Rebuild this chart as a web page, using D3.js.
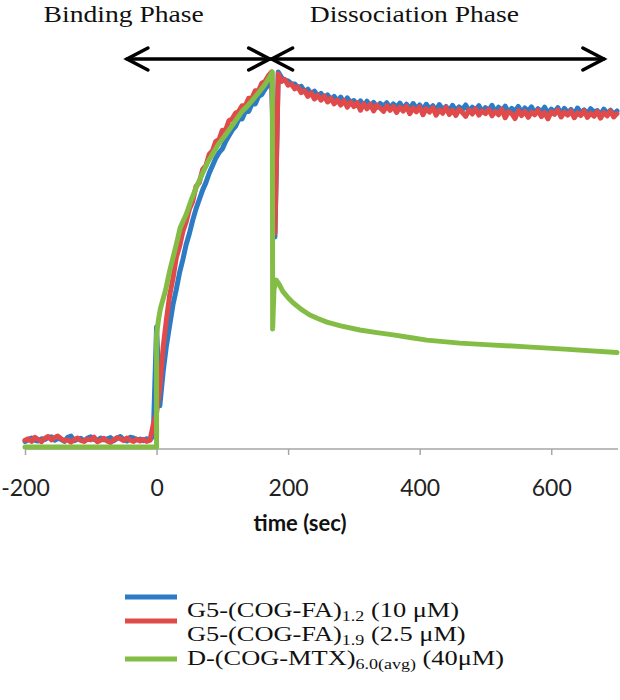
<!DOCTYPE html>
<html>
<head>
<meta charset="utf-8">
<script src="https://cdn.jsdelivr.net/npm/d3@7"></script>
<style>
  html, body { margin: 0; padding: 0; background: #fff; }
  svg { display: block; }
</style>
</head>
<body>
<script>
// ---------------- DATA ----------------
// Sampling times for the two noisy traces (every 5 s from -200 s to 700 s)
const sampleStart = -200, sampleStep = 5;

// G5-(COG-FA)1.2 (10 µM) — blue trace, one row = 50 s
const blueValues = [
  1.5, 1.9, 2.4, 1.8, 1.6, 2.2, 2.0, 2.5, 2.7, 1.8,      // -200
  2.3, 2.0, 1.5, 2.6, 2.9, 1.7, 2.1, 2.3, 1.6, 2.4,      // -150
  2.7, 2.0, 1.8, 2.4, 1.9, 2.2, 2.5, 1.7, 2.3, 2.8,      // -100
  2.0, 1.6, 2.6, 2.4, 1.9, 2.1, 1.7, 2.2, 1.9, 3.0,      // -50
  32, 11, 20, 27, 32.5, 38, 42, 46.5, 50, 54,            // 0
  57, 60.5, 63.5, 66, 68.5, 70.5, 73, 75, 77, 78.5,      // 50
  79.5, 81.5, 83, 84.5, 85.5, 87.5, 87.5, 89.5, 89.5, 91.5, // 100
  91.5, 93.5, 94, 95.5, 96.5, 98.5, 56, 100, 98.5, 97.8,    // 150
  97.6, 96.9, 96.8, 95.8, 96.2, 94.8, 95.4, 94.2, 94.9, 93.6, // 200
  94.3, 93.1, 93.9, 92.6, 93.5, 92.3, 93.3, 91.8, 93.1, 91.9, // 250
  92.4, 91.1, 92.3, 90.9, 92.2, 90.8, 91.9, 90.6, 91.6, 90.9, // 300
  91.8, 90.4, 91.5, 90.6, 91.7, 90.2, 91.4, 90.1, 91.6, 90.3, // 350
  91.2, 89.9, 91.4, 90.2, 91.0, 89.8, 91.3, 90.0, 90.8, 89.7, // 400
  91.1, 89.6, 90.7, 90.0, 91.2, 89.5, 90.6, 89.9, 91.0, 89.4, // 450
  90.5, 89.8, 91.1, 89.3, 90.6, 89.7, 90.9, 89.2, 90.3, 89.5, // 500
  90.8, 89.1, 90.4, 89.6, 90.7, 89.0, 90.2, 89.4, 90.6, 88.9, // 550
  90.1, 89.3, 90.5, 88.8, 90.3, 89.2, 90.0, 88.7, 90.4, 89.1, // 600
  89.9, 88.9, 90.2, 89.4, 89.7, 88.6, 90.1, 89.0, 89.8, 88.8, // 650
  89.6                                                      // 700
];

// G5-(COG-FA)1.9 (2.5 µM) — red trace
const redValues = [
  1.8, 2.2, 1.5, 2.6, 2.0, 1.4, 2.3, 2.8, 1.9, 2.5,      // -200
  2.9, 2.2, 1.6, 1.9, 1.3, 2.0, 2.4, 1.7, 1.5, 2.1,      // -150
  1.9, 2.6, 1.4, 1.8, 2.3, 1.6, 1.2, 1.9, 2.5, 2.2,      // -100
  1.7, 2.4, 1.8, 1.5, 2.1, 1.6, 2.0, 1.5, 1.8, 6.0,      // -50
  9, 16, 26.5, 34, 40.5, 45, 50.5, 53.5, 57.5, 60,       // 0
  63.5, 65.5, 69.5, 70.5, 74, 75, 78, 79, 81.5, 82,      // 50
  84.5, 84.5, 87, 87.5, 89, 89.5, 91, 91, 93, 93,        // 100
  95, 95, 97, 97.5, 99, 100, 57, 99.5, 97.5, 98,         // 150
  96.5, 96.8, 95.5, 96.0, 94.5, 95.0, 93.5, 94.5, 92.8, 93.8, // 200
  92.5, 93.6, 92.0, 93.0, 91.5, 92.5, 91.2, 92.4, 90.6, 92.0, // 250
  90.8, 91.8, 89.8, 91.5, 90.2, 91.4, 89.6, 91.2, 90.4, 89.5, // 300
  91.0, 89.8, 90.8, 89.2, 90.6, 89.6, 90.9, 88.9, 90.4, 89.4, // 350
  90.7, 88.6, 90.2, 89.3, 90.5, 88.5, 89.9, 89.0, 90.6, 88.7, // 400
  89.8, 88.4, 90.1, 89.2, 88.2, 89.9, 88.8, 90.2, 88.5, 89.6, // 450
  88.9, 90.0, 88.3, 89.5, 88.6, 90.1, 87.8, 89.4, 88.9, 87.6, // 500
  89.7, 88.4, 89.5, 87.9, 89.3, 88.6, 89.8, 88.1, 89.2, 87.5, // 550
  89.4, 88.7, 89.9, 88.0, 89.3, 88.5, 89.6, 87.8, 89.1, 88.4, // 600
  89.7, 87.9, 89.0, 88.2, 89.5, 87.7, 89.2, 88.3, 89.6, 88.0, // 650
  88.9                                                      // 700
];

// D-(COG-MTX)6.0(avg) (40 µM) — green trace (smooth)
const greenTimes = [
  -200, 0, 0, 3, 6, 10, 14, 17, 20, 25,
  30, 36, 45, 53, 61, 70, 78, 86, 95, 104,
  112, 120, 130, 137, 145, 152, 162, 168, 172, 176,
  176.5, 178.5, 182, 186, 192, 200, 208, 220, 233, 246,
  259, 280, 309, 335, 360, 385, 411, 436, 461, 500,
  563, 620, 700
];
const greenValues = [
  0, 0, 30, 34, 37, 39.5, 42, 44.5, 47, 50.5,
  54, 58.5, 62, 66, 69.5, 73, 76, 78.4, 81, 83,
  85, 87, 89.5, 90.7, 92.3, 93.8, 96, 97.5, 98.7, 100,
  31.5, 42, 44.5, 43.5, 41.5, 39.8, 38.4, 36.7, 35.2, 34.2,
  33.3, 32.3, 31.2, 30.5, 29.9, 29.2, 28.5, 28.1, 27.7, 27.3,
  26.7, 26.1, 25.2
];

const xTicks = [-200, 0, 200, 400, 600];
const xDomain = [-200, 700];
const yDomain = [0, 100];

const seriesNames = ["G5-(COG-FA)", "G5-(COG-FA)", "D-(COG-MTX)"];
const seriesSubs = ["1.2", "1.9", "6.0(avg)"];
const seriesTails = [" (10 \u03BCM)", " (2.5 \u03BCM)", " (40\u03BCM)"];
const seriesColors = ["#2b7cc4", "#e04a4a", "#84bd45"];

// phase annotations: [start time, end time], label
const phaseSpans = [[-45, 172], [175, 680]];
const phaseLabels = ["Binding Phase", "Dissociation Phase"];
const phaseLabelAt = [-50, 392];

const axisTitle = "time (sec)";

// ---------------- CHART ----------------
const W = 620, H = 700;
const serif = "'Liberation Serif', 'Times New Roman', serif";
const sans = "Lato, 'Open Sans', sans-serif";
const stretch = 1.15; // the reference's serif text is horizontally stretched

const svg = d3.select("body").append("svg").attr("width", W).attr("height", H);
svg.append("rect").attr("width", W).attr("height", H).attr("fill", "#fff");

const x = d3.scaleLinear().domain(xDomain).range([25, 617]);
const y = d3.scaleLinear().domain(yDomain).range([447, 72]);
const axisY = 449;

// axis
const axisG = svg.append("g").attr("transform", `translate(0,${axisY})`)
  .call(d3.axisBottom(x).tickValues(xTicks).tickSize(6).tickPadding(25).tickFormat(d3.format("d")));
axisG.select(".domain").attr("stroke", "#a6a6a6").attr("stroke-width", 1.5)
  .attr("d", `M${x(xDomain[0])},0H${x(xDomain[1]) + 1}`);
axisG.selectAll(".tick line").attr("stroke", "#a6a6a6").attr("stroke-width", 1.5);
axisG.selectAll(".tick text")
  .attr("fill", "#222")
  .attr("font-family", sans)
  .attr("font-size", 23)
  .text(d => d < 0 ? "-" + Math.abs(d) : d);

svg.append("text")
  .attr("x", 300)
  .attr("y", 531)
  .attr("text-anchor", "middle")
  .attr("font-family", sans)
  .attr("font-weight", "bold")
  .attr("font-size", 22)
  .attr("fill", "#111")
  .text(axisTitle);

// series
const toSampled = vals => vals.map((v, i) => [sampleStart + i * sampleStep, v]);
const line = d3.line().x(d => x(d[0])).y(d => y(d[1]));
const series = [
  toSampled(blueValues),
  toSampled(redValues),
  greenTimes.map((t, i) => [t, greenValues[i]])
];
series.forEach((pts, i) => {
  svg.append("path")
    .attr("d", line(pts))
    .attr("fill", "none")
    .attr("stroke", seriesColors[i])
    .attr("stroke-width", 5)
    .attr("stroke-linejoin", "round")
    .attr("stroke-linecap", "round");
});

// phase arrows
const arrowY = 59, head = 21, half = 11;
phaseSpans.forEach(([a, b], i) => {
  const x0 = x(a), x1 = x(b);
  const g = svg.append("g").attr("stroke", "#000").attr("stroke-width", 3.5)
    .attr("fill", "none").attr("stroke-linecap", "round").attr("stroke-linejoin", "miter");
  g.append("path").attr("d", `M${x0},${arrowY}H${x1}`);
  g.append("path").attr("d", `M${x0 + head},${arrowY - half}L${x0},${arrowY}L${x0 + head},${arrowY + half}`);
  g.append("path").attr("d", `M${x1 - head},${arrowY - half}L${x1},${arrowY}L${x1 - head},${arrowY + half}`);
  const cx = x(phaseLabelAt[i]);
  svg.append("text")
    .attr("transform", `translate(${cx},22) scale(${stretch},1)`)
    .attr("text-anchor", "middle")
    .attr("font-family", serif)
    .attr("font-size", 24)
    .attr("fill", "#111")
    .text(phaseLabels[i]);
});

// legend
const legendLineY = [597, 621, 659];
const legendTextY = [617, 641, 665];
seriesNames.forEach((name, i) => {
  svg.append("line")
    .attr("x1", 125).attr("x2", 177)
    .attr("y1", legendLineY[i]).attr("y2", legendLineY[i])
    .attr("stroke", seriesColors[i]).attr("stroke-width", 5);
  const t = svg.append("text")
    .attr("transform", `translate(187,${legendTextY[i]}) scale(1.2,1)`)
    .attr("font-family", serif)
    .attr("font-size", 22)
    .attr("fill", "#111");
  t.append("tspan").text(name);
  t.append("tspan").attr("font-size", 15).attr("dy", 4).text(seriesSubs[i]);
  t.append("tspan").attr("dy", -4).text(seriesTails[i]);
});
</script>
</body>
</html>
